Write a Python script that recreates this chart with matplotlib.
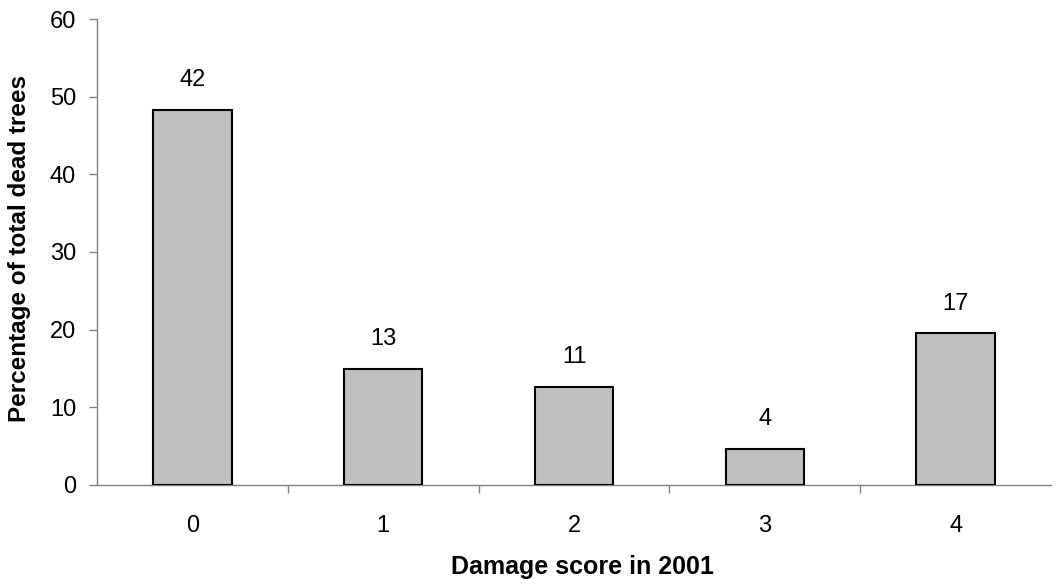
import matplotlib.pyplot as plt
import numpy as np

plt.rcParams['font.family'] = ['Liberation Sans', 'DejaVu Sans']

scores = ['0', '1', '2', '3', '4']
counts = [42, 13, 11, 4, 17]
percent = [48.3, 14.9, 12.6, 4.6, 19.5]
yticks = [0, 10, 20, 30, 40, 50, 60]

fig = plt.figure(figsize=(10.56, 5.83), dpi=100)
ax = fig.add_axes([97/1056, 1 - 484.7/583, 954/1056, 465.4/583])

x = np.arange(len(scores))
ax.bar(x, percent, width=0.41, color='#c0c0c0', edgecolor='black', linewidth=1.5, zorder=3)

# counts above the bars
for xi, p, c in zip(x, percent, counts):
    ax.annotate(str(c), (xi, p), xytext=(0, 13.5), textcoords='offset points',
                ha='center', va='bottom', fontsize=17)

ax.set_xlim(-0.5, len(scores) - 0.5)
ax.set_ylim(0, 60)
ax.set_yticks(yticks)
ax.tick_params(axis='y', labelsize=17, length=6, width=1, color='#808080', pad=9)

ax.set_xticks(x)
ax.set_xticklabels(scores)
ax.set_xticks(np.arange(0.5, len(scores) - 0.5, 1), minor=True)
ax.tick_params(axis='x', which='major', length=0, labelsize=17, pad=22)
ax.tick_params(axis='x', which='minor', length=6, width=1, color='#808080')

for side in ['top', 'right']:
    ax.spines[side].set_visible(False)
for side in ['left', 'bottom']:
    ax.spines[side].set_color('#808080')
    ax.spines[side].set_linewidth(1)

fig.text(582/1056, 1 - 574/583, 'Damage score in 2001', ha='center', va='baseline',
         fontsize=18, fontweight='bold')
fig.text(20/1056, 1 - 248/583, 'Percentage of total dead trees', rotation=90,
         ha='center', va='center', fontsize=17.5, fontweight='bold')

fig.savefig('out.png', dpi=100)
